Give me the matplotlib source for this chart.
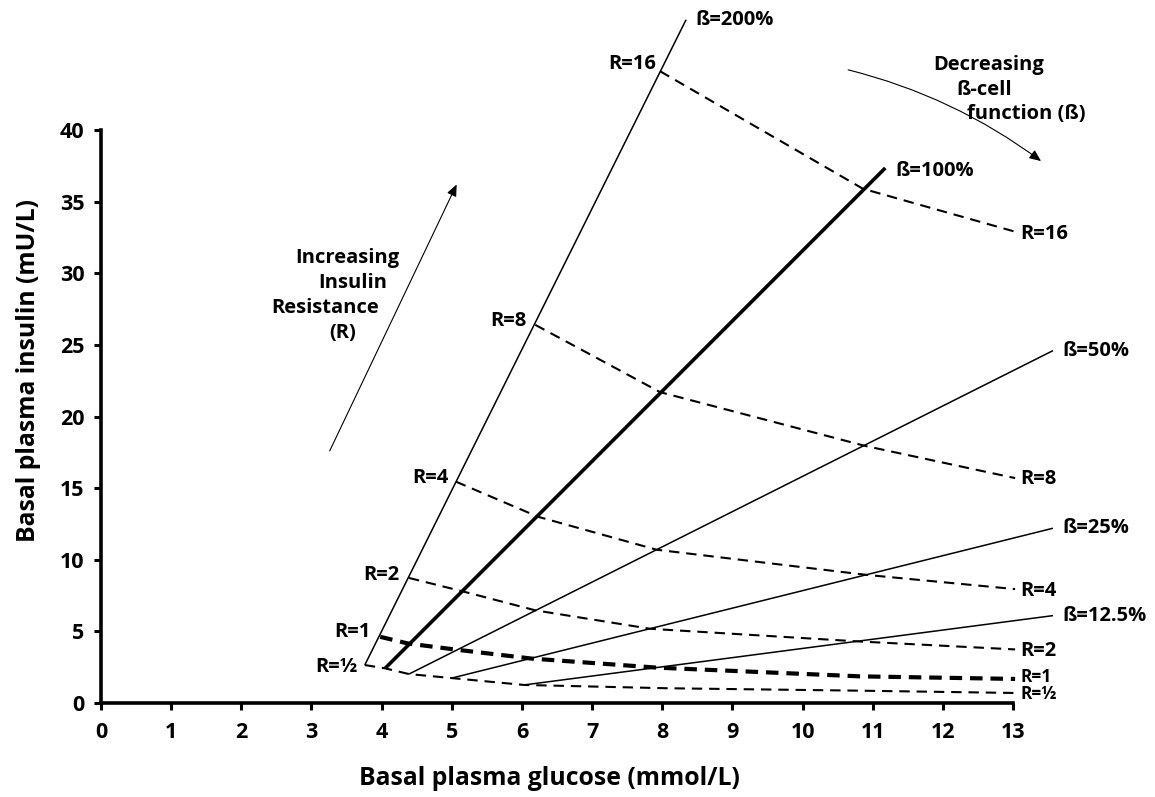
import matplotlib
matplotlib.use('Agg')
import matplotlib.pyplot as plt
from matplotlib.patches import FancyArrowPatch

plt.rcParams['font.family'] = ['Open Sans', 'DejaVu Sans']

# ---------------- data ----------------
x_ticks = list(range(0, 14))
y_ticks = [0, 5, 10, 15, 20, 25, 30, 35, 40]

beta_labels = ['ß=200%', 'ß=100%', 'ß=50%', 'ß=25%', 'ß=12.5%']
beta_x = [[3.76, 8.34], [4.05, 11.18], [4.39, 13.57], [5.00, 13.57], [6.03, 13.57]]
beta_y = [[2.65, 47.7], [2.42, 37.35], [2.02, 24.6], [1.74, 12.2], [1.26, 6.1]]

r_labels = ['R=½', 'R=1', 'R=2', 'R=4', 'R=8', 'R=16']
r_half_x = [3.76, 4.05, 4.39, 5.00, 6.03, 8.07, 10.82, 13.03]
r_half_y = [2.65, 2.42, 2.02, 1.74, 1.26, 1.03, 0.86, 0.70]
r1_x = [3.98, 4.38, 5.07, 6.14, 7.92, 10.82, 13.03]
r1_y = [4.62, 4.15, 3.72, 3.10, 2.47, 1.86, 1.68]
r2_x = [4.39, 5.15, 6.19, 7.83, 10.79, 13.03]
r2_y = [8.73, 7.80, 6.47, 5.18, 4.30, 3.74]
r4_x = [5.06, 6.23, 7.92, 10.90, 13.03]
r4_y = [15.45, 13.0, 10.7, 8.95, 7.95]
r8_x = [6.19, 7.97, 10.89, 13.03]
r8_y = [26.4, 21.7, 17.95, 15.7]
r16_x = [7.97, 10.86, 13.03]
r16_y = [44.1, 35.9, 32.9]
r_x = [r_half_x, r1_x, r2_x, r4_x, r8_x, r16_x]
r_y = [r_half_y, r1_y, r2_y, r4_y, r8_y, r16_y]

# ---------------- figure ----------------
fig = plt.figure(figsize=(11.55, 7.97), dpi=100)
ax = fig.add_axes([101/1155, 1 - 703/797, 912/1155, 573/797])
ax.set_xlim(0, 13)
ax.set_ylim(0, 40)
for s in ['top', 'right']:
    ax.spines[s].set_visible(False)
for s in ['left', 'bottom']:
    ax.spines[s].set_linewidth(2.6)
ax.set_xticks(x_ticks)
ax.set_yticks(y_ticks)
ax.tick_params(axis='both', direction='out', length=5, width=2.2, labelsize=15.5)
ax.tick_params(axis='x', pad=9)
ax.tick_params(axis='y', pad=7)
for lab in ax.get_xticklabels() + ax.get_yticklabels():
    lab.set_fontweight('bold')

ax.set_xlabel('Basal plasma glucose (mmol/L)', fontsize=17.8, fontweight='bold')
ax.set_ylabel('Basal plasma insulin (mU/L)', fontsize=17.8, fontweight='bold')
ax.xaxis.set_label_coords(0.492, -0.11)
ax.yaxis.set_label_coords(-0.066, 0.58)

TXT = dict(fontsize=14.5, fontweight='bold', color='black')

# beta lines
for i, (bx, by, bl) in enumerate(zip(beta_x, beta_y, beta_labels)):
    lw = 2.6 if bl == 'ß=100%' else 1.1
    ax.plot(bx, by, color='black', lw=lw, clip_on=False, solid_capstyle='butt', zorder=3)
    dy = -2 if bl == 'ß=100%' else 0
    ax.annotate(bl, xy=(bx[-1], by[-1]), xytext=(7, dy), textcoords='offset points',
                ha='left', va='center', annotation_clip=False, **TXT)

# R curves
left_offsets = [(-5, -1.5), (-7, 3.5), (-7, 2), (-5, 3), (-6, 3), (-3, 5)]
right_offsets = [(4, -1), (4, 1.5), (4, -1), (4, -1), (4, -1), (4, -2)]
for i, (rx, ry, rl) in enumerate(zip(r_x, r_y, r_labels)):
    if rl == 'R=1':
        lw, dashes = 3.0, (3.0, 1.9)
    else:
        lw, dashes = 1.5, (5.0, 3.3)
    ax.plot(rx, ry, color='black', lw=lw, dashes=dashes, clip_on=False, zorder=2)
    ax.annotate(rl, xy=(rx[0], ry[0]), xytext=left_offsets[i], textcoords='offset points',
                ha='right', va='center', annotation_clip=False, **TXT)
    fs = 12.5 if rl in ('R=½', 'R=1') else 14.5
    ax.annotate(rl, xy=(rx[-1], ry[-1]), xytext=right_offsets[i], textcoords='offset points',
                ha='left', va='center', annotation_clip=False,
                fontsize=fs, fontweight='bold', color='black')

# arrows
ax.add_patch(FancyArrowPatch((3.26, 17.6), (5.07, 36.2), arrowstyle='-|>,head_length=7,head_width=3',
                             color='black', lw=0.8, clip_on=False, shrinkA=0, shrinkB=0))
ax.add_patch(FancyArrowPatch((10.65, 44.2), (13.40, 37.83), arrowstyle='-|>,head_length=7,head_width=3',
                             connectionstyle='arc3,rad=-0.1',
                             color='black', lw=0.8, clip_on=False, shrinkA=0, shrinkB=0))

# annotation text blocks
for t, x, y in [('Increasing', 3.51, 31.06), ('Insulin', 3.59, 29.32),
                ('Resistance', 3.19, 27.57), ('(R)', 3.44, 25.83),
                ('Decreasing', 12.65, 44.54), ('ß-cell', 12.59, 42.79),
                ('function (ß)', 13.19, 41.12)]:
    ax.text(x, y, t, ha='center', va='center', clip_on=False, **TXT)

fig.savefig('out.png', dpi=100)
